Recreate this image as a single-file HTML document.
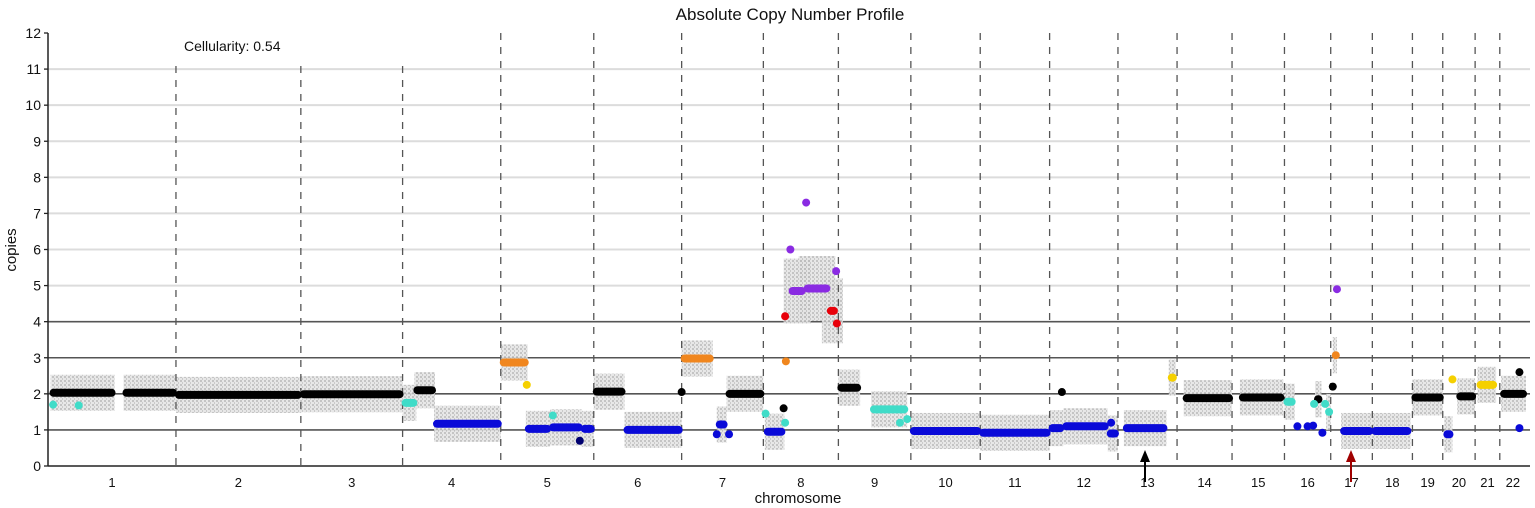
<!DOCTYPE html>
<html><head><meta charset="utf-8"><style>
html,body{margin:0;padding:0;background:#fff;}
svg{display:block;font-family:"Liberation Sans",sans-serif;}
</style></head><body>
<svg id="chart" width="1535" height="508" viewBox="0 0 1535 508">
<defs>
<pattern id="speckle" width="4" height="4" patternUnits="userSpaceOnUse">
<rect x="0" y="0" width="4" height="4" fill="#e4e4e4"/>
<rect x="0" y="0" width="2" height="2" fill="#bdbdbd"/>
<rect x="2" y="2" width="1" height="2" fill="#c4c4c4"/>
</pattern>
</defs>
</svg>
<script>
const chromSizes=[249,243,198,191,181,171,159,146,141,135,135,133,115,107,102,90,81,78,59,63,48,51];
const yTicks=[0,1,2,3,4,5,6,7,8,9,10,11,12];
// segments: [chrom, startFrac, endFrac, copies, color]
const segChrom=[1,1,2,3,4,4,4,5,5,5,5,6,6,7,7,7,8,8,8,8,9,9,10,11,12,12,12,13,13,14,15,16,16,16,17,17,18,19,20,20,21,22];
const segStart=[0.02,0.59,0,0,0,0.12,0.32,0,0.27,0.53,0.87,0,0.35,0,0.43,0.55,0.02,0.35,0.55,0.86,0,0.45,0,0,0,0.2,0.85,0.1,0.86,0.12,0.15,0,0.66,0.9,0.05,0.25,0,0,0.05,0.45,0.1,0.05];
const segEnd=[0.52,1,1,1,0.14,0.33,1,0.29,0.53,0.87,1,0.35,1,0.38,0.55,1,0.28,0.55,0.88,0.98,0.3,0.95,1,1,0.2,0.85,1,0.82,0.98,1,0.98,0.22,0.8,1,0.15,1,0.95,1,0.3,1,0.85,1];
const segValue=[2.03,2.03,1.97,1.99,1.75,2.1,1.17,2.87,1.03,1.07,1.03,2.06,1.0,2.98,1.15,2.0,0.95,4.85,4.92,4.3,2.17,1.57,0.97,0.92,1.05,1.1,0.9,1.05,2.45,1.88,1.9,1.78,1.85,1.5,3.07,0.97,0.97,1.9,0.88,1.93,2.25,2.0];
const segColor=["k","k","k","k","c","k","b","o","b","b","b","k","b","o","b","k","b","p","p","r","k","c","b","b","b","b","b","b","y","k","k","c","k","c","o","b","b","k","b","k","y","k"];
// points: chrom, frac, copies, color
const ptChrom=[1,1,5,5,5,7,7,7,8,8,8,8,8,8,8,8,8,9,9,12,12,16,16,16,16,16,16,17,17,20,22,22];
const ptFrac=[0.04,0.24,0.28,0.56,0.85,0.0,0.43,0.58,0.03,0.27,0.29,0.3,0.29,0.36,0.57,0.98,0.97,0.85,0.95,0.9,0.18,0.28,0.5,0.62,0.64,0.82,0.88,0.05,0.15,0.3,0.75,0.75];
const ptValue=[1.7,1.68,2.25,1.4,0.7,2.05,0.88,0.88,1.45,1.6,1.2,2.9,4.15,6.0,7.3,3.95,5.4,1.2,1.3,1.2,2.05,1.1,1.1,1.12,1.72,0.92,1.72,2.2,4.9,2.4,2.6,1.05];
const ptColor=["c","c","y","c","n","k","b","b","c","k","c","o","r","p","p","r","p","c","c","b","k","b","b","b","c","b","c","k","p","y","k","b"];
const colors={k:"#000000",b:"#0a0ad8",c:"#40dcc8",o:"#f0861e",y:"#f5d000",r:"#e8000a",p:"#8a2be2",n:"#000070"};

const NS="http://www.w3.org/2000/svg";
const svg=document.getElementById('chart');
const X0=48,X1=1526,Y0=466,Y12=33;
const total=chromSizes.reduce((a,b)=>a+b,0);
const cum=[0];chromSizes.forEach(s=>cum.push(cum[cum.length-1]+s));
function xg(c,f){return X0+(cum[c-1]+f*chromSizes[c-1])/total*(X1-X0);}
function y(v){return Y0-v/12*(Y0-Y12);}
function mk(tag,attrs,parent){const e=document.createElementNS(NS,tag);for(const k in attrs)e.setAttribute(k,attrs[k]);(parent||svg).appendChild(e);return e;}

let t=mk('text',{x:790,y:20,'text-anchor':'middle','font-size':17,fill:'#111'});t.textContent='Absolute Copy Number Profile';


t=mk('text',{x:184,y:51,'font-size':14,fill:'#111'});t.textContent='Cellularity: 0.54';



yTicks.forEach(v=>{
  if(v===0||v===12)return;
  const dark=v<=4;
  const l=mk('line',{x1:X0,x2:1530,y1:y(v),y2:y(v),stroke:dark?'#555':'#dcdcdc','stroke-width':dark?1.6:2});
  
  
});
// gray clouds
segChrom.forEach((c,i)=>{
  const x1=xg(c,segStart[i]),x2=xg(c,segEnd[i]);
  const v=segValue[i];const h=v>4?0.9:0.5;
  const r=mk('rect',{x:x1-(v>4?6:0),y:y(v+h),width:Math.max(2,x2-x1)+(v>4?12:0),height:y(v-h)-y(v+h),fill:'url(#speckle)',opacity:0.9});
  
  
});
for(let c=1;c<chromSizes.length;c++){
  const xx=xg(c+1,0);
  const l=mk('line',{x1:xx,x2:xx,y1:c<=3?66:33,y2:Y0,stroke:'#555','stroke-width':1.3,'stroke-dasharray':'7,7'});
  
  
}
segChrom.forEach((c,i)=>{
  const x1=xg(c,segStart[i]),x2=xg(c,segEnd[i]);
  const l=mk('line',{x1:x1+3,x2:Math.max(x1+3,x2-3),y1:y(segValue[i]),y2:y(segValue[i]),stroke:colors[segColor[i]],'stroke-width':8,'stroke-linecap':'round'});
  
  
});
ptChrom.forEach((c,i)=>{
  const p=mk('circle',{cx:xg(c,ptFrac[i]),cy:y(ptValue[i]),r:4,fill:colors[ptColor[i]]});
  
  
});
let a=mk('line',{x1:X0,x2:X0,y1:Y12,y2:Y0,stroke:'#222','stroke-width':1.5});


a=mk('line',{x1:X0,x2:1530,y1:Y0,y2:Y0,stroke:'#222','stroke-width':1.5});


yTicks.forEach(v=>{
  mk('line',{x1:X0-4,x2:X0,y1:y(v),y2:y(v),stroke:'#222','stroke-width':1.3});
  const tt=mk('text',{x:X0-7,y:y(v)+5,'text-anchor':'end','font-size':14,fill:'#111'});tt.textContent=v;
  
  
});
chromSizes.forEach((s,i)=>{
  const tt=mk('text',{x:(xg(i+1,0)+xg(i+1,1))/2,y:487,'text-anchor':'middle','font-size':13,fill:'#111'});tt.textContent=i+1;
  
  
});
t=mk('text',{x:798,y:503,'text-anchor':'middle','font-size':15,fill:'#111'});t.textContent='chromosome';


t=mk('text',{x:0,y:0,'text-anchor':'middle','font-size':15,fill:'#111',transform:'translate(16,250) rotate(-90)'});t.textContent='copies';


function arrow(x,col,name){
  const g=mk('g',{});
  
  
  mk('line',{x1:x,x2:x,y1:482,y2:458,stroke:col,'stroke-width':2},g);
  mk('polygon',{points:`${x-5},${462} ${x+5},${462} ${x},${450}`,fill:col},g);
}
arrow(1145,'#000','black-arrow-chr13');
arrow(1351,'#a00000','red-arrow-chr17');
</script>
</body></html>
